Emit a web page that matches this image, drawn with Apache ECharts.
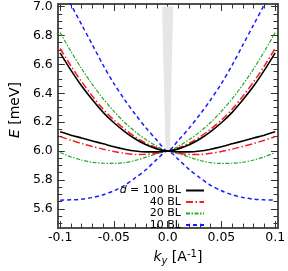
<!DOCTYPE html>
<html><head><meta charset="utf-8">
<script src="https://cdn.jsdelivr.net/npm/echarts@6/dist/echarts.min.js"></script>
<style>html,body{margin:0;padding:0;background:#fff}#c{width:288px;height:271px}</style>
</head><body><div id="c"></div>
<script>
// wave vector k_y [1/A]
const kValues = [-0.1,-0.09,-0.08,-0.07,-0.06,-0.05,-0.04,-0.03,-0.02,-0.01,0,0.01,0.02,0.03,0.04,0.05,0.06,0.07,0.08,0.09,0.1];
// energies E [meV]
const e100Upper = [6.68,6.56,6.45,6.355,6.268,6.196,6.135,6.083,6.043,6.015,6.0,6.015,6.043,6.083,6.135,6.196,6.268,6.355,6.45,6.56,6.68];
const e100Lower = [6.133,6.11,6.09,6.07,6.05,6.03,6.013,6.0,5.994,5.994,6.0,5.994,5.994,6.0,6.013,6.03,6.05,6.07,6.09,6.11,6.133];
const e40Upper  = [6.71,6.59,6.48,6.38,6.29,6.215,6.152,6.097,6.054,6.022,6.0,6.022,6.054,6.097,6.152,6.215,6.29,6.38,6.48,6.59,6.71];
const e40Lower  = [6.10,6.075,6.052,6.032,6.013,5.997,5.984,5.976,5.977,5.985,6.0,5.985,5.977,5.976,5.984,5.997,6.013,6.032,6.052,6.075,6.10];
const e20Upper  = [6.82,6.69,6.57,6.46,6.362,6.275,6.198,6.133,6.078,6.033,6.0,6.033,6.078,6.133,6.198,6.275,6.362,6.46,6.57,6.69,6.82];
const e20Lower  = [5.99,5.96,5.938,5.922,5.916,5.914,5.92,5.935,5.958,5.981,6.0,5.981,5.958,5.935,5.92,5.914,5.916,5.922,5.938,5.96,5.99];
const e10Upper  = [7.16,7.015,6.875,6.735,6.595,6.467,6.355,6.253,6.159,6.075,6.0,6.075,6.159,6.253,6.355,6.467,6.595,6.735,6.875,7.015,7.16];
const e10Lower  = [5.66,5.662,5.667,5.678,5.697,5.725,5.763,5.815,5.872,5.942,6.0,5.942,5.872,5.815,5.763,5.725,5.697,5.678,5.667,5.662,5.66];
// grey wedge near k = 0
const wedgeK = [-0.0052, 0.0052, 0.002, -0.002];
const wedgeE = [7.0, 7.0, 6.0, 6.0];
// ticks
const xTicks = [-0.1,-0.05,0,0.05,0.1];
const xTickLabels = ['-0.1','-0.05','0.0','0.05','0.1'];
const xMinorTicks = [-0.09,-0.08,-0.07,-0.06,-0.04,-0.03,-0.02,-0.01,0.01,0.02,0.03,0.04,0.06,0.07,0.08,0.09];
const yTicks = [5.6,5.8,6.0,6.2,6.4,6.6,6.8,7.0];
const yTickLabels = ['5.6','5.8','6.0','6.2','6.4','6.6','6.8','7.0'];
const yMinorTicks = [5.5,5.55,5.65,5.7,5.75,5.85,5.9,5.95,6.05,6.1,6.15,6.25,6.3,6.35,6.45,6.5,6.55,6.65,6.7,6.75,6.85,6.9,6.95];
const legendNames = ['d = 100 BL','40 BL','20 BL','10 BL'];

const X_MIN = -0.1022, X_MAX = 0.1026, Y_MIN = 5.4665, Y_MAX = 7.018;
const FONT = 'DejaVu Sans';
const frameColor = '#444';
const tickColor = '#333';

const seriesDefs = [
  {name: legendNames[0], color:'#000000', type:'solid', width:1.6, up:e100Upper, lo:e100Lower},
  {name: legendNames[1], color:'#ff1a1a', type:[7,2.5,1.5,2.5], width:1.5, up:e40Upper, lo:e40Lower},
  {name: legendNames[2], color:'#22aa22', type:[4,1.5,1.5,1.5], width:1.2, up:e20Upper, lo:e20Lower},
  {name: legendNames[3], color:'#1a1aff', type:[4,3], width:1.5, up:e10Upper, lo:e10Lower}
];

function axisBase(minV, maxV, pos, ticks, len) {
  return {
    type:'value', position:pos, min:minV, max:maxV,
    axisLine:{show:true, onZero:false, lineStyle:{color:frameColor, width:1.5}},
    axisTick:{show:true, inside:true, length:len, customValues:ticks, lineStyle:{color:tickColor, width:1}},
    axisLabel:{show:false},
    splitLine:{show:false}
  };
}

const xAxes = [
  axisBase(X_MIN, X_MAX, 'bottom', xTicks, 7),
  axisBase(X_MIN, X_MAX, 'top', xTicks, 7),
  axisBase(X_MIN, X_MAX, 'bottom', xMinorTicks, 4.5),
  axisBase(X_MIN, X_MAX, 'top', xMinorTicks, 4.5)
];
xAxes[0].axisLabel = {show:true, customValues:xTicks, margin:3, fontFamily:FONT, fontSize:12.5, color:'#000',
  formatter:(v)=>{const i=xTicks.findIndex(t=>Math.abs(t-v)<1e-9); return i>=0?xTickLabels[i]:'';}};
Object.assign(xAxes[0], {
  name:'{i|k}{s|y}{n| [A}{p|-1}{n|]}', nameLocation:'middle', nameGap:15,
  nameTextStyle:{padding:[0,0,0,20], rich:{
    i:{fontFamily:FONT, fontSize:14, fontStyle:'italic', color:'#000'},
    s:{fontFamily:FONT, fontSize:10, fontStyle:'italic', color:'#000', padding:[7,0,0,0]},
    n:{fontFamily:FONT, fontSize:14, color:'#000'},
    p:{fontFamily:FONT, fontSize:10, color:'#000', padding:[0,0,7,0]}
  }}
});
const yAxes = [
  axisBase(Y_MIN, Y_MAX, 'left', yTicks, 7),
  axisBase(Y_MIN, Y_MAX, 'right', yTicks, 7),
  axisBase(Y_MIN, Y_MAX, 'left', yMinorTicks, 4.5),
  axisBase(Y_MIN, Y_MAX, 'right', yMinorTicks, 4.5)
];
yAxes[0].axisLabel = {show:true, customValues:yTicks, margin:5, fontFamily:FONT, fontSize:12.5, color:'#000',
  formatter:(v)=>{const i=yTicks.findIndex(t=>Math.abs(t-v)<1e-9); return i>=0?yTickLabels[i]:'';}};
Object.assign(yAxes[0], {
  name:'{i|E}{n| [meV]}', nameLocation:'middle', nameGap:28, nameRotate:90,
  nameTextStyle:{padding:[0,0,0,12], rich:{
    i:{fontFamily:FONT, fontSize:14, fontStyle:'italic', color:'#000'},
    n:{fontFamily:FONT, fontSize:14, color:'#000'}
  }}
});

const series = [{
  type:'custom', silent:true, z:1, xAxisIndex:0, yAxisIndex:0,
  data:[[0, 6.5]],
  renderItem:(params, api)=>({
    type:'polygon',
    shape:{points: wedgeK.map((kk,i)=>api.coord([kk, wedgeE[i]]))},
    style:{fill:'#e6e6e6'}
  })
}];
seriesDefs.slice().reverse().forEach(d=>{
  [d.up, d.lo].forEach(arr=>{
    series.push({
      type:'line', name:d.name, xAxisIndex:0, yAxisIndex:0, z:3,
      data:kValues.map((kk,i)=>[kk, arr[i]]),
      smooth:0.3, symbol:'none', showSymbol:false, clip:true,
      lineStyle:{color:d.color, width:d.width, type:d.type},
      itemStyle:{color:d.color}, animation:false
    });
  });
});

const legendTops = [185, 196.5, 208, 219.5];
const legends = legendNames.map((n,i)=>({
  data:[n], orient:'horizontal', align:'right', right:83, top:legendTops[i],
  itemWidth:18, itemHeight:10, itemGap:0, padding:0, selectedMode:false,
  itemStyle:{opacity:0, borderWidth:0},
  formatter: i===0 ? ('{i|' + n.charAt(0) + '}{n|' + n.slice(1) + '}') : ('{n|' + n + '}'),
  textStyle:{fontFamily:FONT, fontSize:11, color:'#000', rich:{
    i:{fontFamily:FONT, fontSize:11, fontStyle:'italic', color:'#000'},
    n:{fontFamily:FONT, fontSize:11, color:'#000'}
  }}
}));

const chart = echarts.init(document.getElementById('c'), null, {renderer:'canvas'});
chart.setOption({
  animation:false,
  backgroundColor:'#fff',
  grid:{left:50, right:5, top:4, bottom:38, containLabel:false},
  xAxis:xAxes, yAxis:yAxes, legend:legends, series:series
});
</script></body></html>
